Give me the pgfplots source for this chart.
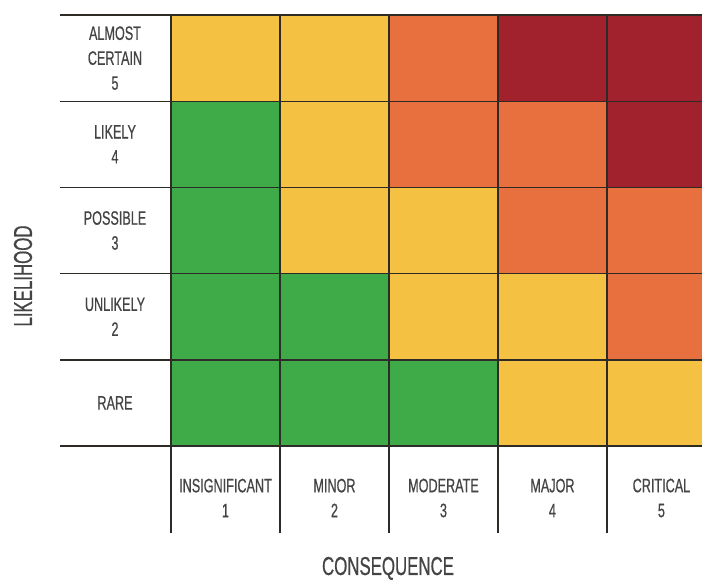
\documentclass[border=0pt]{standalone}
\usepackage{pgfplots}
\pgfplotsset{compat=1.18}
\usepackage{fontspec}
\setmainfont{Liberation Sans}[FakeStretch=0.65, FakeBold=0.6]
\definecolor{txt}{HTML}{444444}
\definecolor{gridc}{HTML}{2E2A26}
\begin{document}
\begin{tikzpicture}
\useasboundingbox (0,0) rectangle (702bp,581bp);
\begin{axis}[
  at={(171bp,135bp)}, anchor=south west,
  scale only axis, width=531bp, height=431bp,
  xmin=0.5, xmax=5.372, ymin=0.5, ymax=5.5,
  clip mode=individual,
  axis line style={draw=none}, major tick length=0pt,
  colormap={risk}{rgb255=(62,170,72) rgb255=(245,193,66) rgb255=(232,112,63) rgb255=(161,34,44)},
  colormap access=direct,
  xtick={1,2,3,4,5},
  xticklabels={INSIGNIFICANT\\1, MINOR\\2, MODERATE\\3, MAJOR\\4, CRITICAL\\5},
  ytick={1,2,3,4,5},
  yticklabels={RARE, UNLIKELY\\2, POSSIBLE\\3, LIKELY\\4, ALMOST\\CERTAIN\\5},
  ticklabel style={font=\fontsize{19.5}{25}\selectfont, text=txt, align=center},
  xticklabel style={anchor=center, yshift=-52bp},
  yticklabel style={anchor=center, xshift=-56bp},
  xlabel={CONSEQUENCE}, ylabel={LIKELIHOOD},
  label style={font=\fontsize{26}{30}\selectfont, text=txt},
  xlabel style={at={(axis description cs:0.4087,-0.284)}, anchor=center},
  ylabel style={at={(axis description cs:-0.2787,0.3944)}, anchor=center, rotate=0},
]
\addplot[matrix plot*, mesh/cols=5, point meta=explicit] table[meta=c] {
x y c
1 1 0
2 1 0
3 1 0
4 1 1
5 1 1
1 2 0
2 2 0
3 2 1
4 2 1
5 2 2
1 3 0
2 3 1
3 3 1
4 3 2
5 3 2
1 4 0
2 4 1
3 4 2
4 4 2
5 4 3
1 5 1
2 5 1
3 5 2
4 5 3
5 5 3
};
\pgfplotsinvokeforeach{0,1,2,3,4,5}{
  \draw[gridc, line width=1.4bp] (axis cs:-0.52,#1+0.5) -- (axis cs:5.372,#1+0.5);
}
\pgfplotsinvokeforeach{0,1,2,3,4}{
  \draw[gridc, line width=1.4bp] (axis cs:#1+0.5,-0.51) -- (axis cs:#1+0.5,5.5);
}
\end{axis}
\end{tikzpicture}
\end{document}
